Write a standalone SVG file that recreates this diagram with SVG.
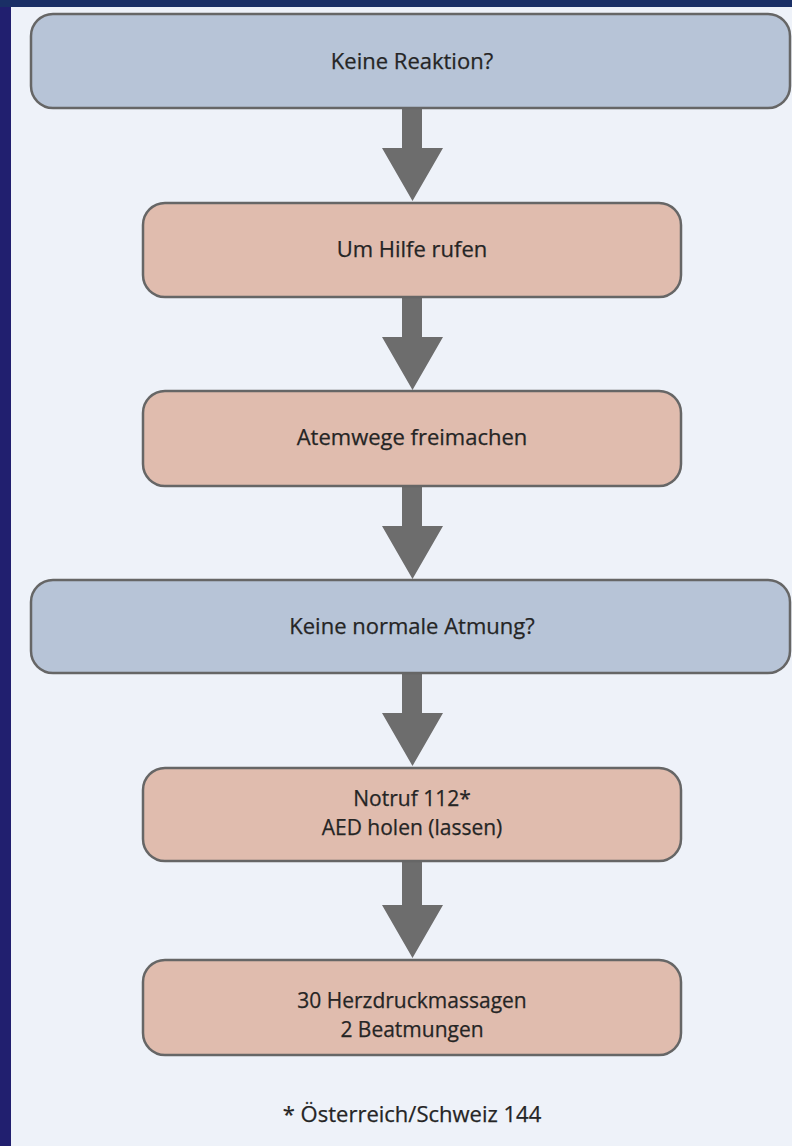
<svg xmlns="http://www.w3.org/2000/svg" width="792" height="1146" viewBox="0 0 792 1146">
<style>
.bg{fill:#eef2f9}
.q{fill:#b7c4d7;stroke:#666;stroke-width:2.5}
.a{fill:#e0bcae;stroke:#666;stroke-width:2.5}
.t{font-family:"Open Sans","Liberation Sans",sans-serif;font-size:22px;fill:#252525;stroke:#252525;stroke-width:0.25;text-anchor:middle}
.s{font-size:21px}
.arr{fill:#6d6d6d}
</style>
<defs>
<path id="arrow" d="M402 0 H422 V40 H443 L412.5 93 L382 40 H402 Z"/>
</defs>
<rect x="0" y="0" width="792" height="1146" class="bg"/>
<rect x="0" y="0" width="11" height="1146" fill="#211f6f"/>
<rect x="0" y="0" width="792" height="7" fill="#1a2f66"/>
<g id="connectors" class="arr">
<use href="#arrow" y="108"/>
<use href="#arrow" y="297"/>
<use href="#arrow" y="486"/>
<use href="#arrow" y="673"/>
<path d="M402 861 H422 V905 H443 L412.5 958 L382 905 H402 Z"/>
</g>
<g id="n1"><rect class="q" x="31" y="14" width="759" height="94" rx="22"/><text class="t" x="412" y="69">Keine Reaktion?</text></g>
<g id="n2"><rect class="a" x="143" y="203" width="538" height="94" rx="22"/><text class="t" x="412" y="257">Um Hilfe rufen</text></g>
<g id="n3"><rect class="a" x="143" y="391" width="538" height="95" rx="22"/><text class="t" x="412" y="445">Atemwege freimachen</text></g>
<g id="n4"><rect class="q" x="31" y="580" width="759" height="93" rx="22"/><text class="t" x="412" y="634">Keine normale Atmung?</text></g>
<g id="n5"><rect class="a" x="143" y="768" width="538" height="93" rx="22"/><text class="t s" x="412" y="806">Notruf 112*</text><text class="t s" x="412" y="835">AED holen (lassen)</text></g>
<g id="n6"><rect class="a" x="143" y="960" width="538" height="95" rx="22"/><text class="t s" x="412" y="1008">30 Herzdruckmassagen</text><text class="t s" x="412" y="1037">2 Beatmungen</text></g>
<g id="footnote"><text class="t" x="412" y="1122">* Österreich/Schweiz 144</text></g>
</svg>
